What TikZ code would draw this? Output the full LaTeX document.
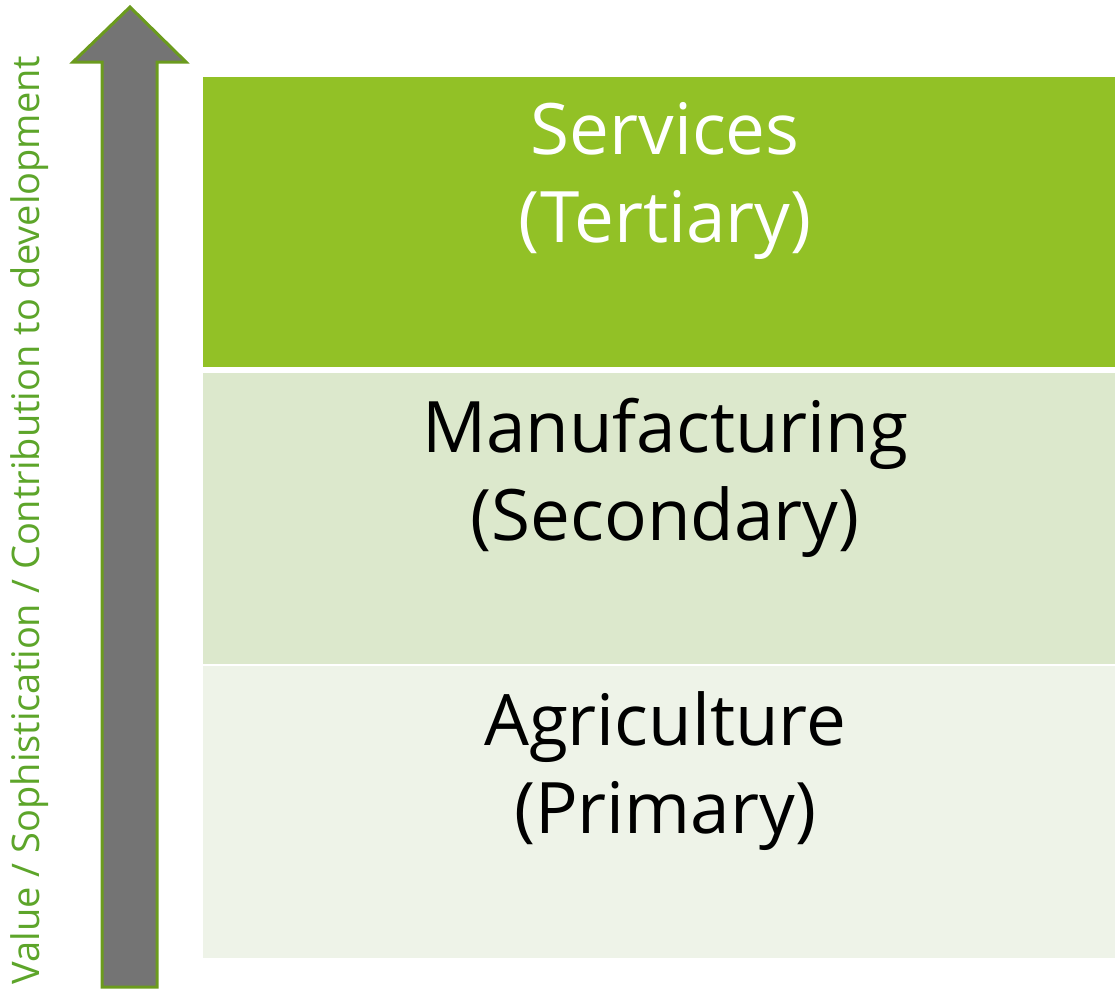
\documentclass[tikz,border=0pt]{standalone}
\usepackage{fontspec}
\setmainfont{Open Sans}
\usetikzlibrary{positioning}

\definecolor{tertiarygreen}{HTML}{92C126}
\definecolor{secondarygreen}{HTML}{DCE8CC}
\definecolor{primarygreen}{HTML}{EEF3E8}
\definecolor{axisgreen}{HTML}{5DA52A}
\definecolor{arrowedge}{HTML}{6B9B1E}
\definecolor{arrowgray}{HTML}{747474}

\begin{document}
\begin{tikzpicture}[x=1pt, y=-1pt]
        % Styles
        \tikzset{
            sector/.style = {rectangle, draw=none, anchor=north west, inner sep=0pt, minimum width=912pt},
            sectorlabel/.style = {align=center, font=\fontsize{71}{88}\selectfont, inner sep=0pt, anchor=north}
        }
        \useasboundingbox (0,0) rectangle (1115,989);

        % Sector boxes
        \node (tertiary) [sector, fill=tertiarygreen, minimum height=290pt] at (203,77) {};
        \node (secondary) [sector, fill=secondarygreen, minimum height=291pt] at (203,373) {};
        \node (primary) [sector, fill=primarygreen, minimum height=292pt] at (203,666) {};

        % Sector labels
        \node (tertiary_txt) [sectorlabel, text=white, below=25pt of tertiary.north, xshift=6pt] {Services\\(Tertiary)};
        \node (secondary_txt) [sectorlabel, below=25pt of secondary.north, xshift=6pt] {Manufacturing\\(Secondary)};
        \node (primary_txt) [sectorlabel, below=25pt of primary.north, xshift=6pt] {Agriculture\\(Primary)};

        % Upward arrow
        \draw [draw=arrowedge, fill=arrowgray, line width=3pt, line join=miter]
            (102,987) -- (102,62) -- (73,62) -- (130,7) -- (186,62) -- (157,62) -- (157,987) -- cycle;

        % Axis label
        \node (axis_txt) [rotate=90, text=axisgreen, font=\fontsize{38}{42}\selectfont, inner sep=0pt] at (30,520) {Value / Sophistication / Contribution to development};
    \end{tikzpicture}
\end{document}
